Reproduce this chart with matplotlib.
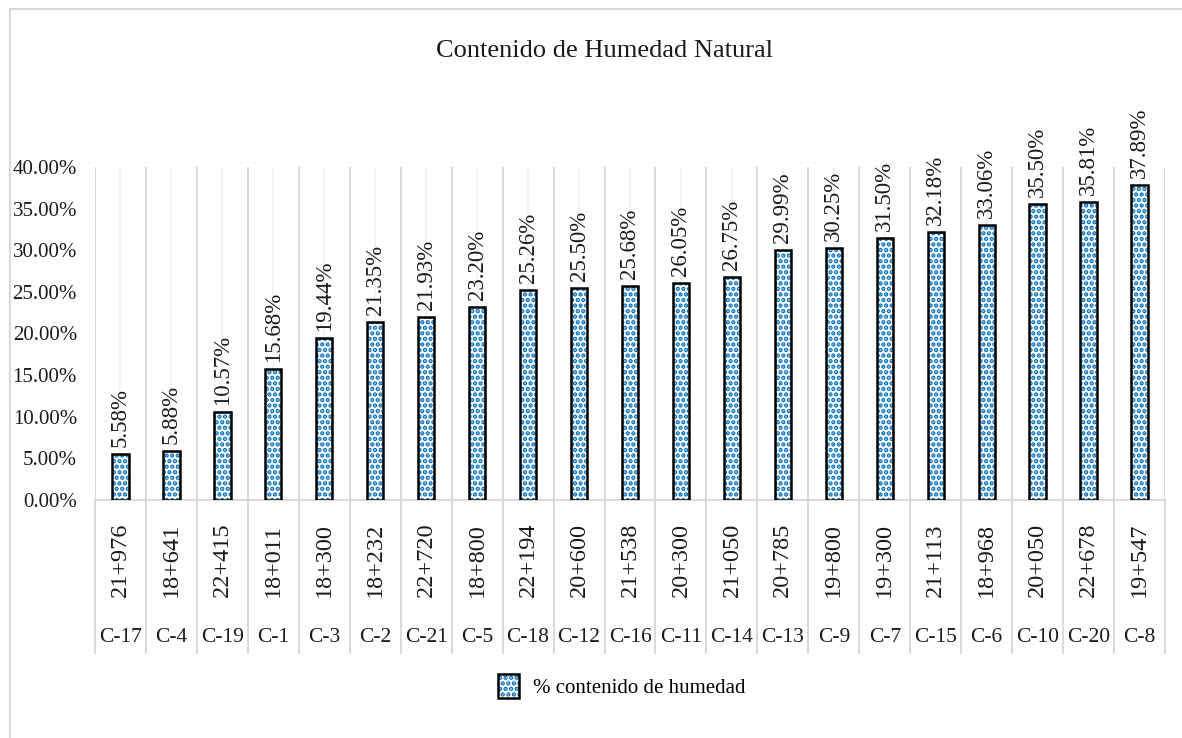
import matplotlib
matplotlib.use("Agg")
import matplotlib.pyplot as plt
import matplotlib.transforms as mtransforms
from matplotlib.patches import Rectangle
from matplotlib.lines import Line2D
import numpy as np

plt.rcParams['font.family'] = ['Liberation Serif', 'DejaVu Serif']
plt.rcParams['hatch.linewidth'] = 2.2

categories = ['C-17', 'C-4', 'C-19', 'C-1', 'C-3', 'C-2', 'C-21', 'C-5', 'C-18', 'C-12',
              'C-16', 'C-11', 'C-14', 'C-13', 'C-9', 'C-7', 'C-15', 'C-6', 'C-10', 'C-20', 'C-8']
stations = ['21+976', '18+641', '22+415', '18+011', '18+300', '18+232', '22+720', '18+800',
            '22+194', '20+600', '21+538', '20+300', '21+050', '20+785', '19+800', '19+300',
            '21+113', '18+968', '20+050', '22+678', '19+547']
humedad = [5.58, 5.88, 10.57, 15.68, 19.44, 21.35, 21.93, 23.20, 25.26, 25.50, 25.68,
           26.05, 26.75, 29.99, 30.25, 31.50, 32.18, 33.06, 35.50, 35.81, 37.89]
yticks = [0, 5, 10, 15, 20, 25, 30, 35, 40]
title = 'Contenido de Humedad Natural'
series_name = '% contenido de humedad'

W, H = 1182, 738
fig = plt.figure(figsize=(W / 100, H / 100), dpi=100)
ax = fig.add_axes([95 / W, 1 - 500 / H, (1165 - 95) / W, (500 - 167) / H])

n = len(categories)
x = np.arange(n)
vals = np.array(humedad) / 100.0

ax.set_xlim(-0.5, n - 0.5)
ax.set_ylim(0, 0.40)

major_c = '#d9d9d9'
minor_c = '#f0f0f0'
# gridlines
for b in np.arange(-0.5, n, 1.0):
    ax.axvline(b, color=major_c, lw=1.4, zorder=0)
for c in x:
    ax.axvline(c, color=minor_c, lw=1.2, zorder=0)

# bars: hatched fill then black outline
ax.bar(x, vals, width=0.32, facecolor='white', edgecolor='#0070c0', hatch='...',
       linewidth=0, zorder=2)
ax.bar(x, vals, width=0.32, fill=False, edgecolor='black', linewidth=1.8, zorder=3)

for xi, v, raw in zip(x, vals, humedad):
    ax.annotate(f'{raw:.2f}%', (xi, v), xytext=(0, 7), textcoords='offset pixels',
                rotation=90, ha='center', va='bottom', fontsize=16.5, color='#1a1a1a',
                annotation_clip=False)

# axes styling
for s in ['top', 'right', 'left']:
    ax.spines[s].set_visible(False)
ax.spines['bottom'].set_color(major_c)
ax.spines['bottom'].set_linewidth(1.4)
ax.set_yticks([t / 100 for t in yticks])
ax.set_yticklabels([f'{t:.2f}%' for t in yticks], fontsize=15, color='#1a1a1a')
ax.tick_params(axis='y', length=0, pad=13)
ax.set_xticks([])

# multi-level category axis
trans = mtransforms.blended_transform_factory(ax.transData, ax.transAxes)
for b in np.arange(-0.5, n, 1.0):
    ax.plot([b, b], [0, -(653 - 500) / (500 - 167)], transform=trans, color=major_c,
            lw=1.4, clip_on=False, zorder=0)
for xi, st, cat in zip(x, stations, categories):
    ax.text(xi, -(560 - 500) / (500 - 167), st, transform=trans, rotation=90,
            ha='center', va='center', fontsize=17.5, color='#1a1a1a')
    ax.text(xi, -(637 - 500) / (500 - 167), cat, transform=trans,
            ha='center', va='center', fontsize=15.5, color='#1a1a1a')

# title
fig.text(605 / W, 1 - 51 / H, title, ha='center', va='center', fontsize=19, color='#1a1a1a')

# legend
handle = Rectangle((0, 0), 1, 1, facecolor='white', edgecolor='#0070c0', hatch='...', linewidth=0)
handle2 = Rectangle((0, 0), 1, 1, fill=False, edgecolor='black', linewidth=1.8)
fig.legend(handles=[(handle, handle2)], labels=[series_name], loc='center',
           bbox_to_anchor=(622 / W, 1 - 686 / H), frameon=False, fontsize=15,
           handlelength=1.0, handleheight=1.4, handletextpad=0.7)

# outer border (chart area)
fig.add_artist(Line2D([10 / W, 10 / W], [0, 1 - 9 / H], color=major_c, lw=1.5,
                      transform=fig.transFigure))
fig.add_artist(Line2D([10 / W, 1], [1 - 9 / H, 1 - 9 / H], color=major_c, lw=1.5,
                      transform=fig.transFigure))

fig.savefig('out.png', dpi=100)
